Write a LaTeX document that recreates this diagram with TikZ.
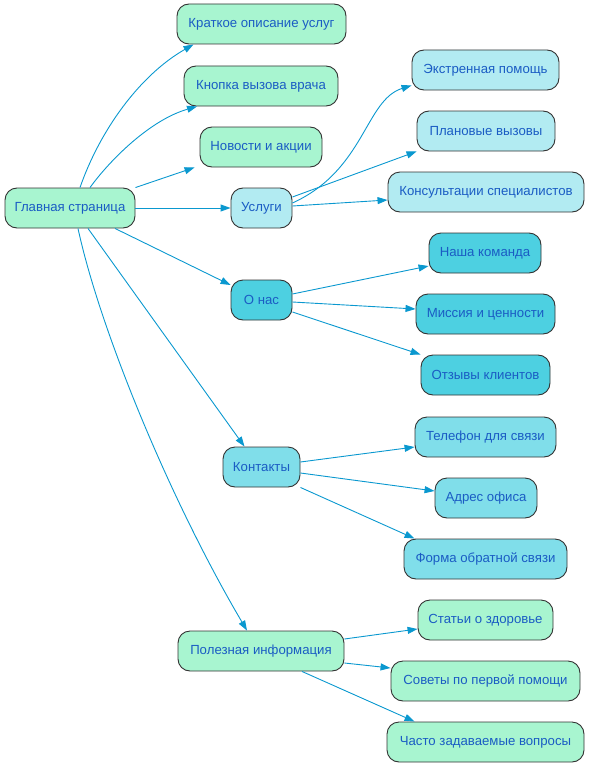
\documentclass[tikz,border=0pt]{standalone}
\usepackage{fontspec}
\setmainfont{Liberation Sans}
\usetikzlibrary{arrows.meta}
\definecolor{mgreen}{HTML}{A8F5D0}
\definecolor{lcyan}{HTML}{B2EBF2}
\definecolor{mcyan}{HTML}{80DEEA}
\definecolor{dcyan}{HTML}{4DD0E1}
\definecolor{txtblue}{HTML}{1A5CC4}
\definecolor{ecol}{HTML}{0A98CF}
\definecolor{bord}{HTML}{333333}
\tikzset{
  box/.style={draw=bord, line width=0.9pt, rounded corners=12pt, minimum height=40pt,
    inner sep=0pt, font=\fontsize{13.2}{15}\selectfont, text=txtblue, minimum width=#1},
  gbox/.style={box=#1, fill=mgreen},
  lbox/.style={box=#1, fill=lcyan},
  mbox/.style={box=#1, fill=mcyan},
  dbox/.style={box=#1, fill=dcyan},
  conn/.style={draw=ecol, line width=0.9pt, -{Triangle[length=10pt,width=7pt]}}
}
\begin{document}
\begin{tikzpicture}[x=1pt,y=-1pt]
\useasboundingbox (0,0) rectangle (589,768);
\node[gbox=130] (main) at (70,208) {Главная страница};
\node[gbox=169] (brief) at (261.5,24) {Краткое описание услуг};
\node[gbox=154] (button) at (261,86) {Кнопка вызова врача};
\node[gbox=122] (news) at (261,147) {Новости и акции};
\node[lbox=61] (usl) at (261.5,208) {Услуги};
\node[lbox=147] (extr) at (485.5,70) {Экстренная помощь};
\node[lbox=138] (plan) at (486,131) {Плановые вызовы};
\node[lbox=196] (cons) at (486,192) {Консультации специалистов};
\node[dbox=61] (onas) at (261.5,300) {О нас};
\node[dbox=112] (team) at (485,253) {Наша команда};
\node[dbox=139] (miss) at (485.5,314) {Миссия и ценности};
\node[dbox=129] (rev) at (485.5,375) {Отзывы клиентов};
\node[mbox=77] (cont) at (261.5,467) {Контакты};
\node[mbox=141] (phone) at (485.5,437) {Телефон для связи};
\node[mbox=102] (addr) at (486,498) {Адрес офиса};
\node[mbox=163] (form) at (485.5,559) {Форма обратной связи};
\node[gbox=166] (pol) at (261,651) {Полезная информация};
\node[gbox=135] (art) at (485.5,620) {Статьи о здоровье};
\node[gbox=189] (adv) at (485.5,681) {Советы по первой помощи};
\node[gbox=197] (faq) at (485.5,742) {Часто задаваемые вопросы};

\draw[conn] ([xshift=10pt]main.north) .. controls (100,130) and (140,75) .. ([xshift=-68pt]brief.south);
\draw[conn] ([xshift=20pt]main.north) .. controls (110,160) and (150,120) .. ([xshift=-64pt]button.south);
\draw[conn] (main.north east) -- ([xshift=-5pt]news.south west);
\draw[conn] (main.east) -- (usl.west);
\draw[conn] ([xshift=45pt]main.south) -- ([yshift=15pt]onas.west);
\draw[conn] ([xshift=18pt]main.south) -- ([xshift=-17pt]cont.north);
\draw[conn] ([xshift=8pt]main.south) .. controls (100,330) and (170,500) .. ([xshift=-14pt]pol.north);

\draw[conn] ([yshift=5pt]usl.east) .. controls (365,170) and (365,100) .. ([yshift=5pt]extr.south west);
\draw[conn] ([yshift=11pt]usl.east) -- (plan.south west);
\draw[conn] ([yshift=2pt]usl.east) -- ([yshift=-8pt]cons.west);

\draw[conn] ([yshift=6pt]onas.east) -- ([yshift=-13pt]team.west);
\draw[conn] ([yshift=-2pt]onas.east) -- ([yshift=5pt]miss.west);
\draw[conn] ([yshift=-12pt]onas.east) -- (rev.north west);

\draw[conn] ([yshift=5pt]cont.east) -- ([yshift=-10pt]phone.west);
\draw[conn] ([yshift=-6pt]cont.east) -- ([yshift=7pt]addr.west);
\draw[conn] (cont.south east) -- ([xshift=11pt]form.north west);

\draw[conn] ([yshift=12pt]pol.east) -- ([yshift=-9pt]art.west);
\draw[conn] ([yshift=-12pt]pol.east) -- ([yshift=13pt]adv.west);
\draw[conn] ([xshift=41pt]pol.south) -- ([xshift=28pt]faq.north west);
\end{tikzpicture}
\end{document}
